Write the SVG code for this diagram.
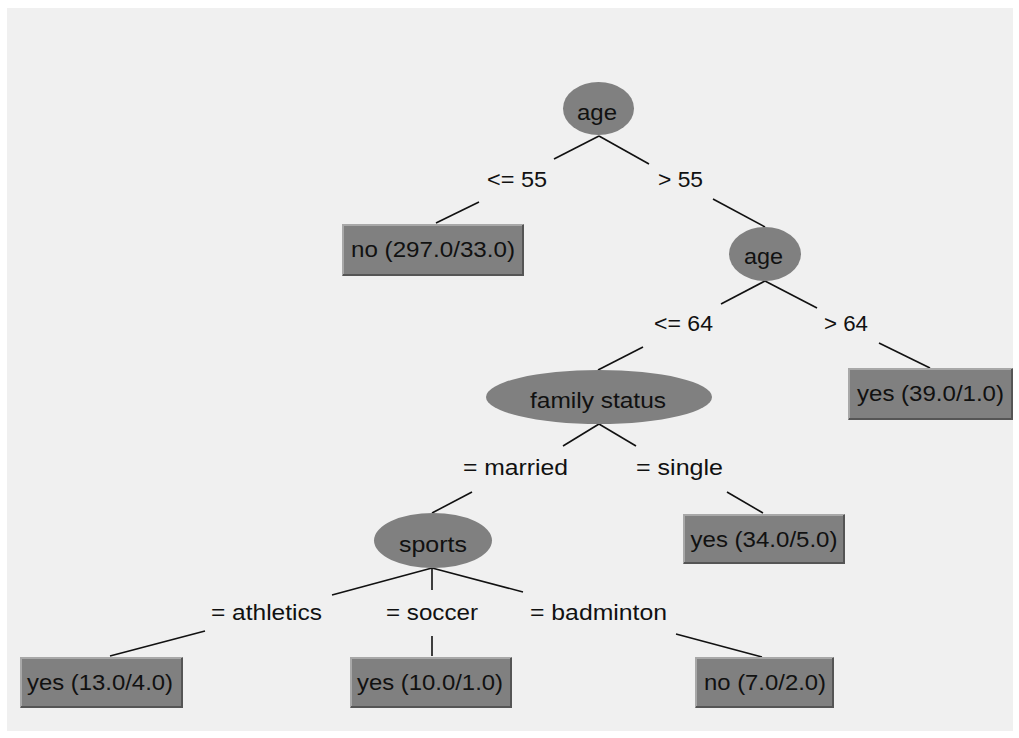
<svg xmlns="http://www.w3.org/2000/svg" width="1019" height="738" viewBox="0 0 1019 738">
<style>
.t{font-family:"Liberation Sans",Arial,sans-serif;font-size:22px;fill:#111;text-anchor:middle}
.e{fill:#808080}
.b{fill:#808080}
.hl{fill:none;stroke:#a8a8a8;stroke-width:2}
.sh{fill:none;stroke:#555;stroke-width:2}
.c line{stroke:#111;stroke-width:1.6}
</style>
<rect x="0" y="0" width="1019" height="738" fill="#ffffff"/>
<rect x="7" y="8" width="1006" height="723" fill="#f0f0f0"/>
<g class="c" id="connectors">
<line x1="599" y1="136" x2="554" y2="159"/>
<line x1="479" y1="202" x2="436" y2="223"/>
<line x1="599" y1="136" x2="649" y2="164"/>
<line x1="713" y1="199" x2="765" y2="227"/>
<line x1="765" y1="281" x2="721" y2="304"/>
<line x1="643" y1="347" x2="598" y2="370"/>
<line x1="765" y1="281" x2="817" y2="308"/>
<line x1="879" y1="343" x2="930" y2="368"/>
<line x1="599" y1="424" x2="563" y2="446"/>
<line x1="472" y1="492" x2="432" y2="513"/>
<line x1="599" y1="424" x2="636" y2="446"/>
<line x1="727" y1="492" x2="763" y2="513"/>
<line x1="432" y1="568" x2="332" y2="595"/>
<line x1="205" y1="631" x2="110" y2="656"/>
<line x1="432" y1="568" x2="432" y2="590"/>
<line x1="432" y1="636" x2="432" y2="656"/>
<line x1="432" y1="568" x2="523" y2="592"/>
<line x1="676" y1="634" x2="762" y2="657"/>
</g>
<g id="edge-labels">
<text class="t" x="517" y="187" textLength="60" lengthAdjust="spacingAndGlyphs">&lt;= 55</text>
<text class="t" x="680.5" y="187" textLength="45" lengthAdjust="spacingAndGlyphs">&gt; 55</text>
<text class="t" x="683.5" y="331" textLength="59" lengthAdjust="spacingAndGlyphs">&lt;= 64</text>
<text class="t" x="846" y="331" textLength="44" lengthAdjust="spacingAndGlyphs">&gt; 64</text>
<text class="t" x="515.5" y="475" textLength="105" lengthAdjust="spacingAndGlyphs">= married</text>
<text class="t" x="679.5" y="475" textLength="87" lengthAdjust="spacingAndGlyphs">= single</text>
<text class="t" x="266.5" y="620" textLength="111" lengthAdjust="spacingAndGlyphs">= athletics</text>
<text class="t" x="432" y="620" textLength="92" lengthAdjust="spacingAndGlyphs">= soccer</text>
<text class="t" x="598.5" y="620" textLength="137" lengthAdjust="spacingAndGlyphs">= badminton</text>
</g>
<g id="n-age1">
<ellipse class="e" cx="598.5" cy="108.5" rx="35.5" ry="26.5"/>
<text class="t" x="597" y="120" textLength="40" lengthAdjust="spacingAndGlyphs">age</text>
</g>
<g id="n-no297">
<rect class="b" x="342" y="224" width="182" height="52"/>
<polyline class="hl" points="343,275 343,225 523,225"/>
<polyline class="sh" points="343,275 523,275 523,225"/>
<text class="t" x="433" y="257" textLength="164" lengthAdjust="spacingAndGlyphs">no (297.0/33.0)</text>
</g>
<g id="n-age2">
<ellipse class="e" cx="765" cy="254" rx="36" ry="27"/>
<text class="t" x="763.5" y="264" textLength="39" lengthAdjust="spacingAndGlyphs">age</text>
</g>
<g id="n-yes39">
<rect class="b" x="848" y="368" width="165" height="52"/>
<polyline class="hl" points="849,419 849,369 1012,369"/>
<polyline class="sh" points="849,419 1012,419 1012,369"/>
<text class="t" x="930.5" y="401" textLength="147" lengthAdjust="spacingAndGlyphs">yes (39.0/1.0)</text>
</g>
<g id="n-family">
<ellipse class="e" cx="599" cy="397" rx="113" ry="27"/>
<text class="t" x="598" y="408" textLength="136" lengthAdjust="spacingAndGlyphs">family status</text>
</g>
<g id="n-yes34">
<rect class="b" x="683" y="514" width="162" height="50"/>
<polyline class="hl" points="684,563 684,515 844,515"/>
<polyline class="sh" points="684,563 844,563 844,515"/>
<text class="t" x="764" y="547" textLength="147" lengthAdjust="spacingAndGlyphs">yes (34.0/5.0)</text>
</g>
<g id="n-sports">
<ellipse class="e" cx="433" cy="540.5" rx="59" ry="27.5"/>
<text class="t" x="433" y="552" textLength="68" lengthAdjust="spacingAndGlyphs">sports</text>
</g>
<g id="n-yes13">
<rect class="b" x="20" y="657" width="163" height="51"/>
<polyline class="hl" points="21,707 21,658 182,658"/>
<polyline class="sh" points="21,707 182,707 182,658"/>
<text class="t" x="100" y="690" textLength="146" lengthAdjust="spacingAndGlyphs">yes (13.0/4.0)</text>
</g>
<g id="n-yes10">
<rect class="b" x="350" y="657" width="162" height="51"/>
<polyline class="hl" points="351,707 351,658 511,658"/>
<polyline class="sh" points="351,707 511,707 511,658"/>
<text class="t" x="430" y="690" textLength="146" lengthAdjust="spacingAndGlyphs">yes (10.0/1.0)</text>
</g>
<g id="n-no7">
<rect class="b" x="695" y="657" width="139" height="51"/>
<polyline class="hl" points="696,707 696,658 833,658"/>
<polyline class="sh" points="696,707 833,707 833,658"/>
<text class="t" x="765" y="690" textLength="122" lengthAdjust="spacingAndGlyphs">no (7.0/2.0)</text>
</g>
</svg>
